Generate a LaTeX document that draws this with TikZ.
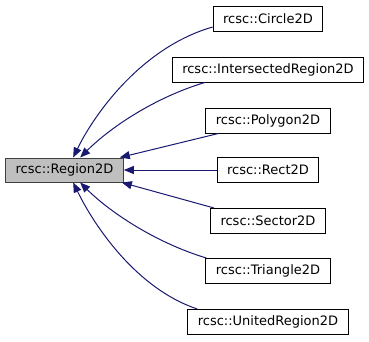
\documentclass[tikz,border=0pt]{standalone}
\usepackage{fontspec}
\setmainfont{DejaVu Sans}
\usetikzlibrary{arrows.meta}
\definecolor{edgeblue}{HTML}{191970}
\definecolor{basefill}{HTML}{BFBFBF}
\definecolor{baseline}{HTML}{404040}
\begin{document}
\begin{tikzpicture}[x=1pt,y=-1pt,
  cls/.style={draw=black, line width=1pt, fill=white, minimum height=25pt,
    inner xsep=10pt, inner ysep=0pt, font=\fontsize{13}{15}\selectfont},
  basecls/.style={cls, draw=baseline, fill=basefill, minimum height=24pt},
  inherit/.style={draw=edgeblue, line width=1pt,
    -{Triangle[length=10pt,width=8pt]}, fill=none}
]
\useasboundingbox (0,0) rectangle (369,341);

% base class
\node[basecls] (base) at (64.5,170) {rcsc::Region2D};

% derived classes
\node[cls] (circle) at (268,19)    {rcsc::Circle2D};
\node[cls] (inter)  at (268,69.5)  {rcsc::IntersectedRegion2D};
\node[cls] (poly)   at (268,120.5) {rcsc::Polygon2D};
\node[cls] (rect)   at (268,170)   {rcsc::Rect2D};
\node[cls] (sector) at (268,221)   {rcsc::Sector2D};
\node[cls] (tri)    at (268,271)   {rcsc::Triangle2D};
\node[cls] (united) at (268,322)   {rcsc::UnitedRegion2D};

% inheritance arrows
\draw[inherit] ([yshift=5pt]circle.south west)
  .. controls +(-70,20) and +(22,-45) .. ([xshift=68pt]base.north west);
\draw[inherit] ([xshift=33pt]inter.south west)
  .. controls +(-50,15) and +(30,-30) .. ([xshift=75pt]base.north west);
\draw[inherit] ([xshift=13pt]poly.south west) -- ([xshift=-4pt]base.north east);
\draw[inherit] (rect.west) -- (base.east);
\draw[inherit] ([xshift=4pt]sector.north west) -- ([xshift=-2pt]base.south east);
\draw[inherit] ([xshift=1pt]tri.north west)
  .. controls +(-50,-15) and +(30,30) .. ([xshift=75pt]base.south west);
\draw[inherit] ([xshift=10pt]united.north west)
  .. controls +(-60,-20) and +(22,45) .. ([xshift=68pt]base.south west);
\end{tikzpicture}
\end{document}
